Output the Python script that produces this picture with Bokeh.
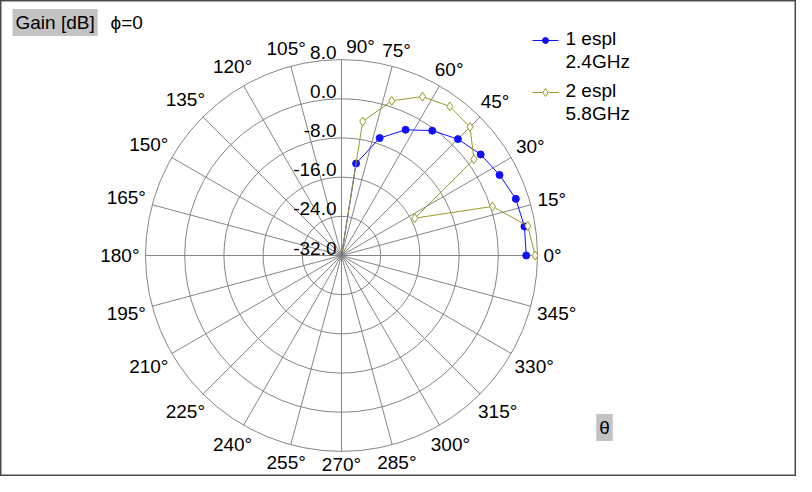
import numpy as np
from bokeh.plotting import figure
from bokeh.models import Range1d, Label
from bokeh.core.properties import value
from bokeh.embed import file_html
from bokeh.resources import INLINE

# ---- data -------------------------------------------------------------
theta_deg = [0, 9, 18, 27, 36, 45, 54, 63, 72, 81, 90]
gain_24 = [5.7, 5.8, 5.4, 4.2, 3.1, 1.6, -0.5, -3.2, -6.8, -13.0, -40.0]
gain_58 = [7.5, 6.5, 0.4, -15.2, 1.4, 5.1, 5.6, 4.4, 1.2, -4.3, -40.0]
series_names = ["1 espl", "2 espl"]
series_freqs = ["2.4GHz", "5.8GHz"]
ring_db = [-32.0, -24.0, -16.0, -8.0, 0.0, 8.0]
angle_ticks = list(range(0, 360, 15))

# ---- layout -----------------------------------------------------------
FONT = "Liberation Sans"
FS = 19
W, H = 796, 476
S = 4.9                     # px per dB
CX, CY = 341, 255           # polar centre, figure pixels from top-left
R0 = ring_db[0]
RMAX = ring_db[-1] - R0

p = figure(width=W, height=H, output_backend="svg", toolbar_location=None,
           x_range=Range1d(-CX / S, (W - CX) / S),
           y_range=Range1d(-(H - CY) / S, CY / S),
           x_axis_location=None, y_axis_location=None, min_border=0)
p.grid.visible = False
p.outline_line_color = "#4a4a4a"
p.outline_line_width = 2
p.background_fill_color = "white"
p.border_fill_color = "white"

def px(fx, fy):
    """figure pixel (from top-left) -> data coordinates"""
    return (fx - CX) / S, (CY - fy) / S

GRID = "#858585"
# rings
radii = [d - R0 for d in ring_db[1:]]
p.circle(x=[0] * len(radii), y=[0] * len(radii), radius=radii,
         fill_color=None, line_color=GRID, line_width=1)
# spokes
a = np.radians(angle_ticks)
p.segment(x0=0, y0=0, x1=RMAX * np.cos(a), y1=RMAX * np.sin(a),
          line_color=GRID, line_width=1)

# angle labels
R_LAB = 202 / S
lx, ly = [], []
for ang in angle_ticks:
    t = f"{ang}\u00b0"
    w = (0.556 * (len(t) - 1) + 0.4) * FS
    c, s = np.cos(np.radians(ang)), np.sin(np.radians(ang))
    d = (abs(c) * w / 2 + abs(s) * 7) / S
    x, y = (R_LAB + d) * c, (R_LAB + d) * s
    if ang == 90:
        x += 19 / S
    lx.append(x)
    ly.append(y)
p.text(x=lx, y=ly, text=[f"{ang}\u00b0" for ang in angle_ticks],
       text_align="center", text_baseline="middle",
       text_font=value(FONT), text_font_size=f"{FS}px", text_color="black")

# ring labels
p.text(x=[-5 / S] * len(ring_db), y=[d - R0 + 0.2 for d in ring_db],
       text=[f"{d:.1f}" for d in ring_db],
       text_align="right", text_baseline="bottom",
       text_font=value(FONT), text_font_size=f"{FS}px", text_color="black")

# ---- series -----------------------------------------------------------
COLORS = ["#1010ff", "#9a9a28"]
for gains, col, marker, fill in [(gain_24, COLORS[0], "circle", COLORS[0]),
                                  (gain_58, COLORS[1], "diamond", "white")]:
    th = np.radians(theta_deg)
    r = np.clip(np.array(gains) - R0, 0, None)
    x, y = r * np.cos(th), r * np.sin(th)
    p.line(x, y, line_color=col, line_width=1)
    m = np.array(gains) > R0
    size = 7 if marker == "circle" else 9
    p.scatter(x[m], y[m], marker=marker, size=size, line_color=col,
              fill_color=fill, line_width=1)

# ---- legend (manual) --------------------------------------------------
for i, (nm, fq, col) in enumerate(zip(series_names, series_freqs, COLORS)):
    yy = 40 + i * 52
    x0, y0 = px(532, yy)
    x1, _ = px(558, yy)
    xm, _ = px(545, yy)
    p.line([x0, x1], [y0, y0], line_color=col, line_width=1)
    if i == 0:
        p.scatter([xm], [y0], marker="circle", size=6, line_color=col, fill_color=col)
    else:
        p.scatter([xm], [y0], marker="diamond", size=8, line_color=col, fill_color="white")
    tx, ty1 = px(565, yy - 2)
    _, ty2 = px(565, yy + 21)
    p.text(x=[tx, tx], y=[ty1, ty2], text=[nm, fq], text_align="left",
           text_baseline="middle", text_font=value(FONT),
           text_font_size=f"{FS}px", text_color="black")

# ---- title boxes ------------------------------------------------------
gx, gy = px(12, 22)
p.add_layout(Label(x=gx, y=gy, text="Gain [dB]", text_baseline="middle",
                   text_align="left", text_font=FONT, text_font_size=f"{FS}px",
                   text_color="black",
                   background_fill_color="#c3c3c3", padding=3))
fx, fy = px(110, 22)
p.add_layout(Label(x=fx, y=fy, text="\u03d5=0", text_baseline="middle",
                   text_align="left", text_font=FONT, text_font_size=f"{FS}px",
                   text_color="black"))
tx, ty = px(604, 427)
p.add_layout(Label(x=tx, y=ty, text="\u03b8", text_baseline="middle",
                   text_align="center", text_font=FONT, text_font_size=f"{FS}px",
                   text_color="black",
                   background_fill_color="#c3c3c3", padding=3))

open("out.html", "w").write(file_html(p, INLINE))
